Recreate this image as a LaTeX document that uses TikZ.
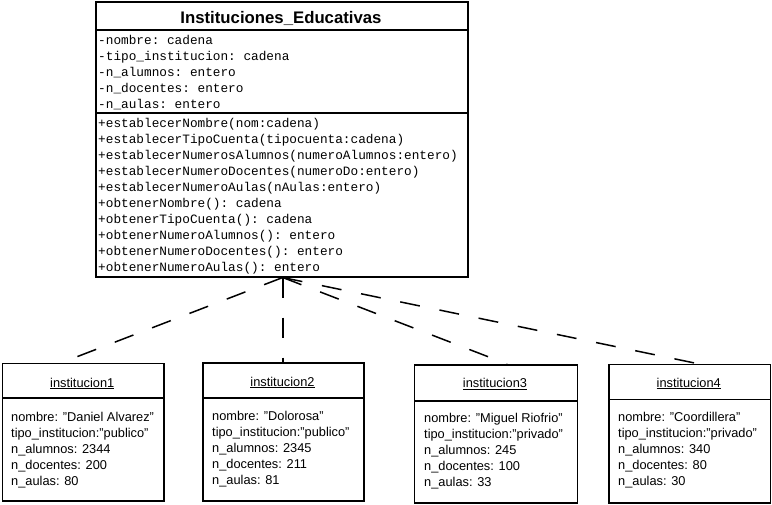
\documentclass[tikz,border=0pt]{standalone}
\usepackage{fontspec}
\setmainfont{Liberation Sans}
\setmonofont{Liberation Mono}
\usetikzlibrary{calc}
\begin{document}
\begin{tikzpicture}[x=1pt,y=-1pt,
  box/.style={draw, line width=1.5pt, inner sep=0pt, anchor=north west},
  mono/.style={anchor=base west, inner sep=0pt, font=\fontsize{12.75}{14}\ttfamily},
  objtxt/.style={anchor=base west, inner sep=0pt, font=\fontsize{12.8}{14}\selectfont},
  objname/.style={anchor=base, inner sep=0pt, font=\fontsize{12.8}{14}\selectfont},
  clstitle/.style={anchor=base, inner sep=0pt, font=\fontsize{16.75}{18}\selectfont\bfseries},
  dep/.style={line width=1.5pt, dash pattern=on 20pt off 20pt}]
\useasboundingbox (0,0) rectangle (772,504);

% main class
\node[box, minimum width=372pt, minimum height=28pt] (clsname) at (95,1) {};
\node[box, minimum width=372pt, minimum height=83pt] (attrs) at (95,29) {};
\node[box, minimum width=372pt, minimum height=164pt] (meths) at (95,112) {};
\node[clstitle] (title) at (281,23) {Instituciones\_Educativas};

\node[mono] (a1) at (98,44) {-nombre: cadena};
\node[mono] (a2) at (98,60) {-tipo\_institucion: cadena};
\node[mono] (a3) at (98,76) {-n\_alumnos: entero};
\node[mono] (a4) at (98,92) {-n\_docentes: entero};
\node[mono] (a5) at (98,108) {-n\_aulas: entero};

\node[mono] (m1) at (98,127) {+establecerNombre(nom:cadena)};
\node[mono] (m2) at (98,143) {+establecerTipoCuenta(tipocuenta:cadena)};
\node[mono] (m3) at (98,159) {+establecerNumerosAlumnos(numeroAlumnos:entero)};
\node[mono] (m4) at (98,175) {+establecerNumeroDocentes(numeroDo:entero)};
\node[mono] (m5) at (98,191) {+establecerNumeroAulas(nAulas:entero)};
\node[mono] (m6) at (98,207) {+obtenerNombre(): cadena};
\node[mono] (m7) at (98,223) {+obtenerTipoCuenta(): cadena};
\node[mono] (m8) at (98,239) {+obtenerNumeroAlumnos(): entero};
\node[mono] (m9) at (98,255) {+obtenerNumeroDocentes(): entero};
\node[mono] (m10) at (98,271) {+obtenerNumeroAulas(): entero};

% object 1
\node[box, minimum width=161.5pt, minimum height=34.5pt] (o1h) at (1.5,362.5) {};
\node[box, minimum width=161.5pt, minimum height=103pt] (o1b) at (1.5,397) {};
\node[objname] (n1) at (82.25,387) {\underline{institucion1}};
\node[objtxt] (p11) at (11,421) {nombre: "Daniel Alvarez"};
\node[objtxt] (p12) at (11,437) {tipo\_institucion:"publico"};
\node[objtxt] (p13) at (11,453) {n\_alumnos: 2344};
\node[objtxt] (p14) at (11,469) {n\_docentes: 200};
\node[objtxt] (p15) at (11,485) {n\_aulas: 80};

% object 2
\node[box, minimum width=161pt, minimum height=35pt] (o2h) at (202,362) {};
\node[box, minimum width=161pt, minimum height=103pt] (o2b) at (202,397) {};
\node[objname] (n2) at (282.5,386) {\underline{institucion2}};
\node[objtxt] (p21) at (212,420) {nombre: "Dolorosa"};
\node[objtxt] (p22) at (212,436) {tipo\_institucion:"publico"};
\node[objtxt] (p23) at (212,452) {n\_alumnos: 2345};
\node[objtxt] (p24) at (212,468) {n\_docentes: 211};
\node[objtxt] (p25) at (212,484) {n\_aulas: 81};

% object 3
\node[box, minimum width=163pt, minimum height=36pt] (o3h) at (413.5,364) {};
\node[box, minimum width=163pt, minimum height=102pt] (o3b) at (413.5,400) {};
\node[objname] (n3) at (495,387.5) {\underline{institucion3}};
\node[objtxt] (p31) at (424,422) {nombre: "Miguel Riofrio"};
\node[objtxt] (p32) at (424,438) {tipo\_institucion:"privado"};
\node[objtxt] (p33) at (424,454) {n\_alumnos: 245};
\node[objtxt] (p34) at (424,470) {n\_docentes: 100};
\node[objtxt] (p35) at (424,486) {n\_aulas: 33};

% object 4
\node[box, minimum width=161.5pt, minimum height=35pt] (o4h) at (608,363.5) {};
\node[box, minimum width=161.5pt, minimum height=103.5pt] (o4b) at (608,398.5) {};
\node[objname] (n4) at (688.75,387) {\underline{institucion4}};
\node[objtxt] (p41) at (618,421) {nombre: "Coordillera"};
\node[objtxt] (p42) at (618,437) {tipo\_institucion:"privado"};
\node[objtxt] (p43) at (618,453) {n\_alumnos: 340};
\node[objtxt] (p44) at (618,469) {n\_docentes: 80};
\node[objtxt] (p45) at (618,485) {n\_aulas: 30};

% dependencies
\coordinate (apex) at ([xshift=1pt]meths.south);
\draw[dep] (apex) -- ([xshift=60.5pt]o1h.north west);
\draw[dep] (apex) -- (apex |- o2h.north);
\draw[dep] (apex) -- ([xshift=93.5pt]o3h.north west);
\draw[dep] (apex) -- ([xshift=89pt]o4h.north west);
\end{tikzpicture}
\end{document}
